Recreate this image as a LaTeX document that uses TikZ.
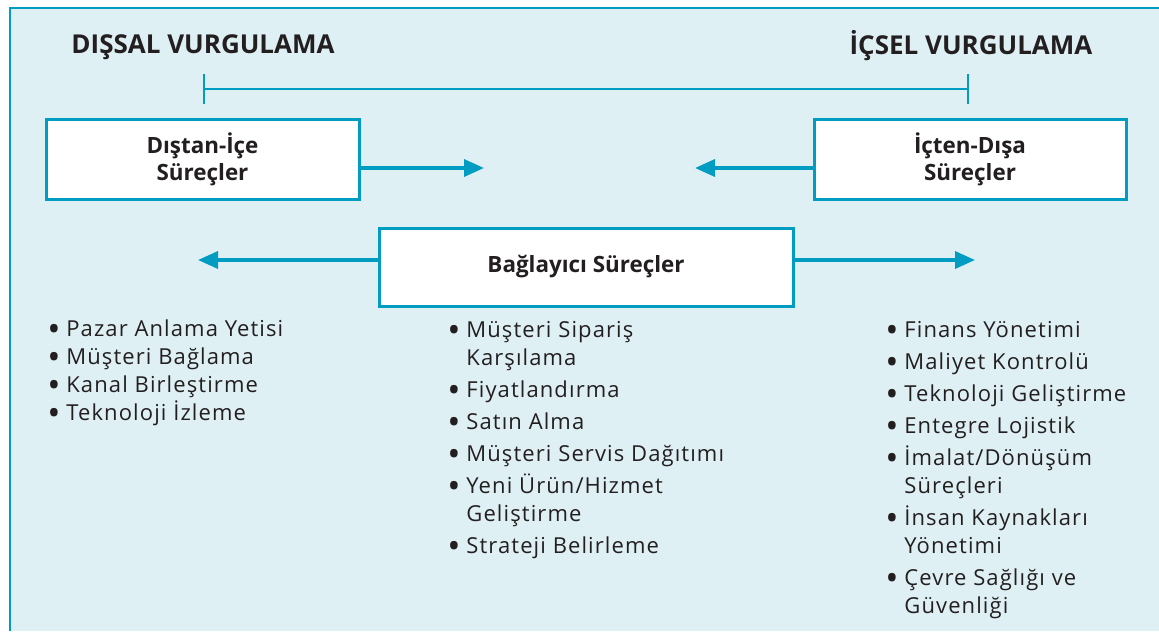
\documentclass[tikz,border=0pt]{standalone}
\usepackage{fontspec}
\setmainfont{Open Sans}
\newfontfamily\listfont[LetterSpace=5]{Open Sans}
\usetikzlibrary{positioning,arrows.meta}

\definecolor{panelfill}{HTML}{DFF0F5}
\definecolor{linecol}{HTML}{009CC2}
\definecolor{inkcol}{HTML}{231F20}

\newcommand{\itembul}{\makebox[9.5pt][l]{\smash{\raisebox{-2.6pt}{\scalebox{1.6}{\textbullet}}}}}
\newcommand{\itemcont}{\hspace*{9.5pt}}

\tikzset{
  procbox/.style={draw=linecol, line width=1.5pt, fill=white, minimum height=40pt,
    align=center, text=inkcol, font=\fontsize{11.2}{13.5}\selectfont\bfseries},
  heading/.style={text=inkcol, font=\fontsize{13}{15}\selectfont\bfseries},
  flow/.style={draw=linecol, line width=1.7pt, -{Triangle[length=10pt,width=8.5pt]}},
  itemlist/.style={align=left, inner sep=0pt, anchor=base west, text=inkcol,
    font=\listfont\fontsize{11}{14}\selectfont},
}

\begin{document}
\begin{tikzpicture}[x=0.5pt, y=-0.5pt]
  \useasboundingbox (0,0) rectangle (1159,631);
  \fill[white] (0,0) rectangle (1159,631);

  % Panel
  \fill[panelfill] (10,8) rectangle (1159,631);
  \draw[linecol, line width=0.8pt] (10,631) -- (10,8) -- (1159,8);

  % Define nodes
  \node[heading] (ext) at (203,47) {DIŞSAL VURGULAMA};
  \node[heading] (int) at (971,46) {İÇSEL VURGULAMA};
  \coordinate (extmark) at (203,89);
  \coordinate (intmark) at (969,89);

  \node[procbox, minimum width=156.5pt] (outin) at (202.5,159) {Dıştan-İçe\\Süreçler};
  \node[procbox, minimum width=156pt]   (inout) at (970,159)   {İçten-Dışa\\Süreçler};
  \node[procbox, minimum width=207pt, minimum height=39pt] (link) at (586,267) {Bağlayıcı Süreçler};

  \coordinate (outtip)  at (484,168);
  \coordinate (intip)   at (695,168);
  \coordinate (lefttip) at (198,260);
  \coordinate (righttip) at (975,260);

  % lists are placed by the baseline of their last line
  \node[itemlist] (extlist) at (47,420) {%
    \itembul Pazar Anlama Yetisi\\
    \itembul Müşteri Bağlama\\
    \itembul Kanal Birleştirme\\
    \itembul Teknoloji İzleme};
  \node[itemlist] (linklist) at (447,553) {%
    \itembul Müşteri Sipariş\\
    \itemcont Karşılama\\[2pt]
    \itembul Fiyatlandırma\\[2pt]
    \itembul Satın Alma\\[2pt]
    \itembul Müşteri Servis Dağıtımı\\[2pt]
    \itembul Yeni Ürün/Hizmet\\
    \itemcont Geliştirme\\[2pt]
    \itembul Strateji Belirleme};
  \node[itemlist] (intlist) at (885,613) {%
    \itembul Finans Yönetimi\\[2pt]
    \itembul Maliyet Kontrolü\\[2pt]
    \itembul Teknoloji Geliştirme\\[2pt]
    \itembul Entegre Lojistik\\[2pt]
    \itembul İmalat/Dönüşüm\\
    \itemcont Süreçleri\\[2pt]
    \itembul İnsan Kaynakları\\
    \itemcont Yönetimi\\[2pt]
    \itembul Çevre Sağlığı ve\\
    \itemcont Güvenliği};

  % Connect the nodes
  \draw[linecol, line width=1pt, {Bar[width=15pt]}-{Bar[width=15pt]}] (extmark) -- (intmark);
  \draw[flow] (outin.east |- outtip) -- (outtip);
  \draw[flow] (inout.west |- intip) -- (intip);
  \draw[flow] (link.west |- lefttip) -- (lefttip);
  \draw[flow] (link.east |- righttip) -- (righttip);

\end{tikzpicture}
\end{document}
